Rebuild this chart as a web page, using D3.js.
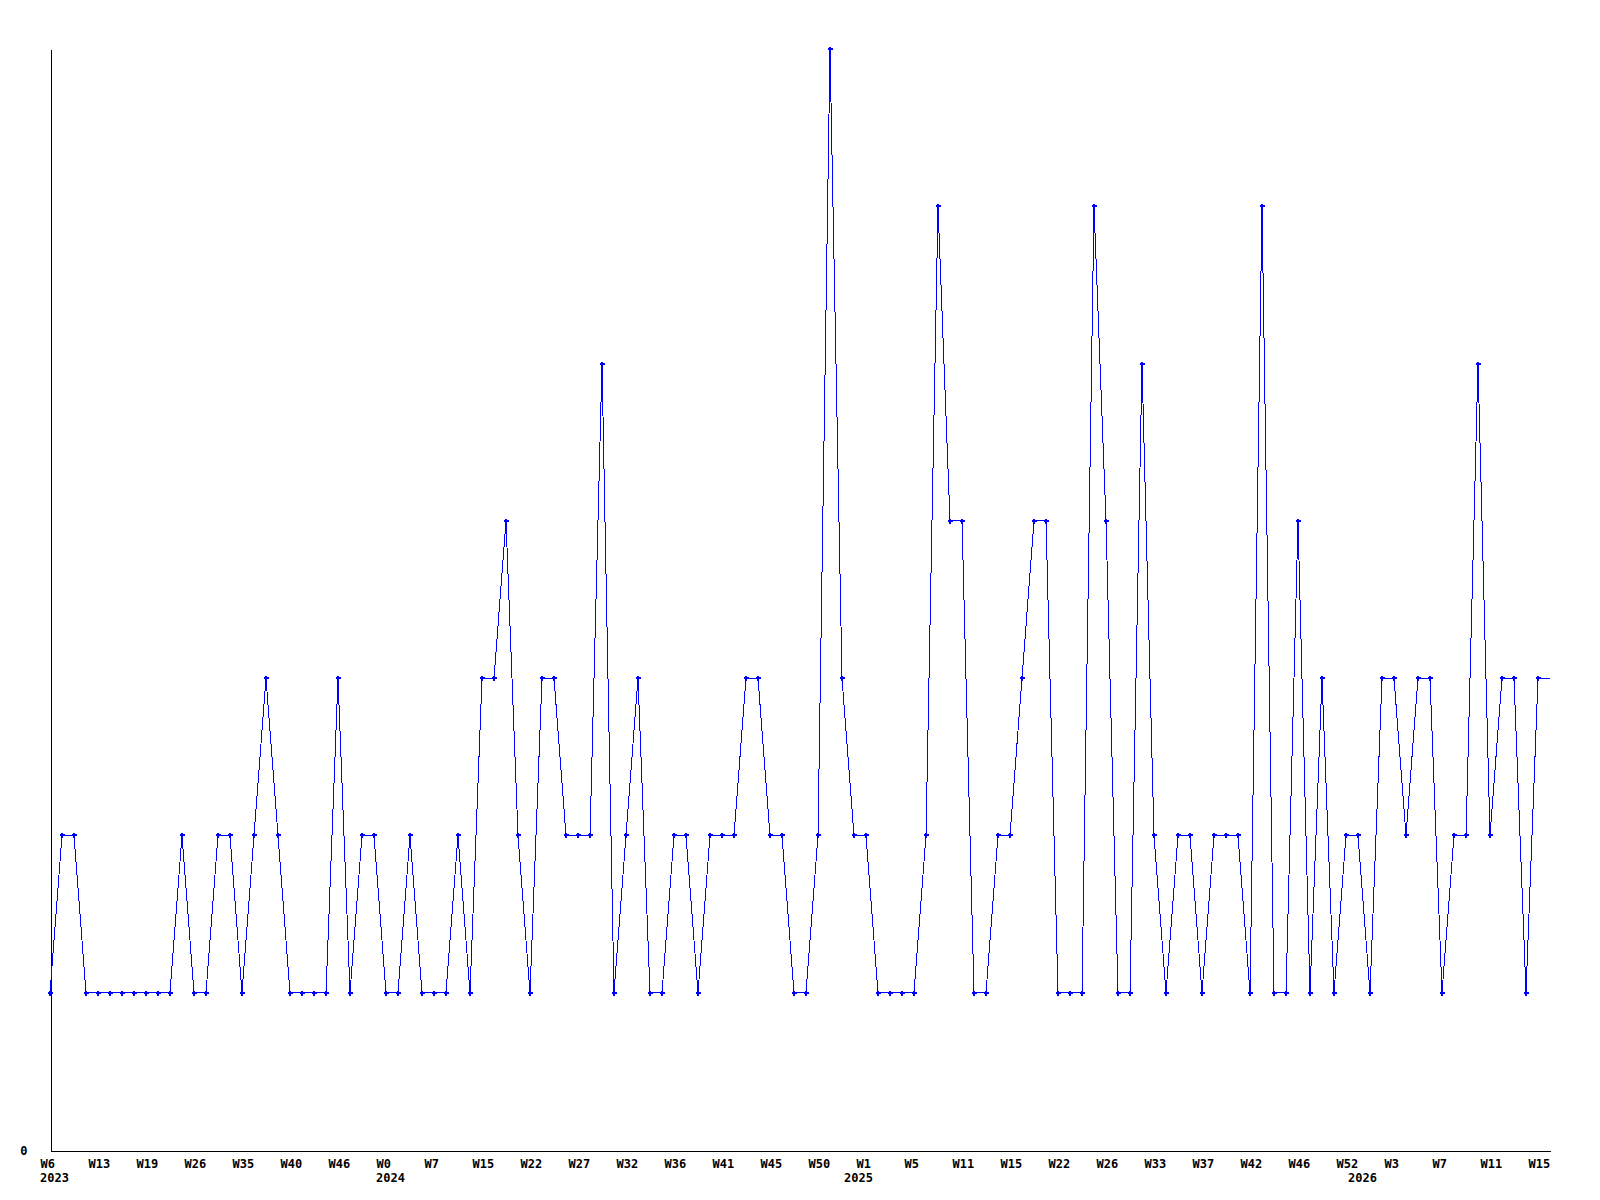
<!DOCTYPE html>
<html>
<head>
<meta charset="utf-8">
<script src="https://cdn.jsdelivr.net/npm/d3@7"></script>
<style>
  body { margin: 0; background: #fff; }
  text { font-family: "DejaVu Sans Mono", monospace; font-weight: bold; font-size: 12px; fill: #000; }
</style>
</head>
<body>
<div id="chart"></div>
<script>
// Define svg width and height
var svgWidth = 1600;
var svgHeight = 1200;

// data, one value per point
var counts = [
  1, 2, 2, 1, 1, 1, 1, 1, 1, 1, 1, 2, 1, 1, 2, 2, 1, 2, 3, 2,
  1, 1, 1, 1, 3, 1, 2, 2, 1, 1, 2, 1, 1, 1, 2, 1, 3, 3, 4, 2,
  1, 3, 3, 2, 2, 2, 5, 1, 2, 3, 1, 1, 2, 2, 1, 2, 2, 2, 3, 3,
  2, 2, 1, 1, 2, 7, 3, 2, 2, 1, 1, 1, 1, 2, 6, 4, 4, 1, 1, 2,
  2, 3, 4, 4, 1, 1, 1, 6, 4, 1, 1, 5, 2, 1, 2, 2, 1, 2, 2, 2,
  1, 6, 1, 1, 4, 1, 3, 1, 2, 2, 1, 3, 3, 2, 3, 3, 1, 2, 2, 5,
  2, 3, 3, 1, 3, 3
];

// week labels, one every 4 points
var weekLabels = [
  "W6", "W13", "W19", "W26", "W35", "W40", "W46", "W0", "W7", "W15", "W22",
  "W27", "W32", "W36", "W41", "W45", "W50", "W1", "W5", "W11", "W15", "W22",
  "W26", "W33", "W37", "W42", "W46", "W52", "W3", "W7", "W11", "W15"
];

// year labels and the point where each one starts
var years = ["2023", "2024", "2025", "2026"];
var yearStart = [0, 28, 67, 109];

var svg = d3.select("#chart")
  .append("svg")
  .attr("width", svgWidth)
  .attr("height", svgHeight);

// scales
var xScale = d3.scaleLinear()
  .domain([0, counts.length - 1])
  .range([50, 1550]);

var yScale = d3.scaleLinear()
  .domain([0, 7])
  .range([1150, 49]);

// x axis with week labels
var bottomAxis = d3.axisBottom(xScale)
  .tickValues(d3.range(0, counts.length - 1, 4))
  .tickFormat((d, i) => weekLabels[i])
  .tickSize(0)
  .tickSizeOuter(0);

var xAxis = svg.append("g")
  .attr("transform", "translate(0, 1150.5)")
  .call(bottomAxis);

xAxis.attr("font-family", null).attr("font-size", null);
xAxis.select(".domain").attr("stroke", "#000").attr("shape-rendering", "crispEdges");
xAxis.selectAll("text")
  .attr("text-anchor", "start")
  .attr("x", -10)
  .attr("y", 17)
  .attr("dy", null);

// year labels under the weeks
svg.append("g")
  .selectAll("text")
  .data(years)
  .enter()
  .append("text")
  .attr("x", (d, i) => xScale(yearStart[i]) - 10)
  .attr("y", 1182)
  .text(d => d);

// y axis, only zero labelled
var leftAxis = d3.axisLeft(yScale)
  .tickValues([0])
  .tickFormat(d3.format("d"))
  .tickSize(0)
  .tickSizeOuter(0);

var yAxis = svg.append("g")
  .attr("transform", "translate(50.5, 0)")
  .call(leftAxis);

yAxis.attr("font-family", null).attr("font-size", null);
yAxis.select(".domain").attr("stroke", "#000").attr("shape-rendering", "crispEdges");
yAxis.selectAll("text")
  .attr("x", -23)
  .attr("dy", "0.35em");

// the line
var line = d3.line()
  .x((d, i) => xScale(i))
  .y(d => yScale(d));

svg.append("path")
  .datum(counts)
  .attr("d", line)
  .attr("fill", "none")
  .attr("stroke", "#0000ff")
  .attr("stroke-width", 1)
  .attr("shape-rendering", "crispEdges");

// small plus markers, last point (still running) has none
var markers = svg.append("g")
  .selectAll("g")
  .data(counts.slice(0, counts.length - 1))
  .enter()
  .append("g")
  .attr("transform", (d, i) => `translate(${Math.round(xScale(i))}, ${Math.round(yScale(d))})`);

markers.append("rect")
  .attr("x", -2).attr("y", -1)
  .attr("width", 5).attr("height", 2)
  .attr("fill", "#0000ff");

markers.append("rect")
  .attr("x", -1).attr("y", -2)
  .attr("width", 2).attr("height", 5)
  .attr("fill", "#0000ff");
</script>
</body>
</html>
